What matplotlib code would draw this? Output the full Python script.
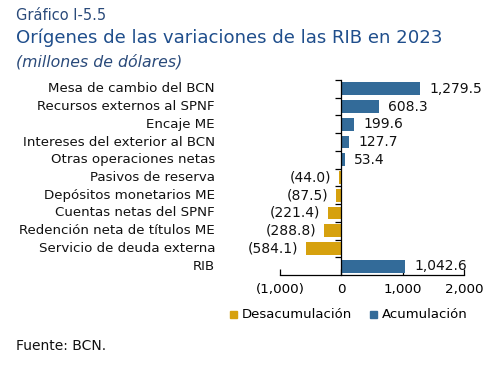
import numpy as np
import matplotlib.pyplot as plt
from matplotlib.patches import Rectangle
import matplotlib.transforms as mtransforms

categories = ["Mesa de cambio del BCN", "Recursos externos al SPNF", "Encaje ME",
              "Intereses del exterior al BCN", "Otras operaciones netas",
              "Pasivos de reserva", "Depósitos monetarios ME",
              "Cuentas netas del SPNF", "Redención neta de títulos ME",
              "Servicio de deuda externa", "RIB"]
values = [1279.5, 608.3, 199.6, 127.7, 53.4, -44.0, -87.5, -221.4, -288.8, -584.1, 1042.6]
xticks = [-1000, 0, 1000, 2000]
xticklabels = ["(1,000)", "0", "1,000", "2,000"]

blue = "#336b99"
gold = "#d6a10e"
navy = "#1f4e8c"

W, H = 498, 369
fig = plt.figure(figsize=(W / 100, H / 100), dpi=100)
ax = fig.add_axes([280 / W, 1 - 275 / H, 184 / W, 195 / H])

y = np.arange(len(categories))
colors = [blue if v >= 0 else gold for v in values]
ax.barh(y, values, height=0.72, color=colors, zorder=2)

ax.set_xlim(-1000, 2000)
ax.set_ylim(10.5, -0.5)

ax.spines["top"].set_visible(False)
ax.spines["right"].set_visible(False)
ax.spines["left"].set_position(("data", 0))
ax.spines["left"].set_linewidth(0.9)
ax.spines["bottom"].set_linewidth(0.9)

ax.set_yticks(np.arange(-0.5, 10.0, 1.0))
ax.set_yticklabels([])
ax.tick_params(axis="y", length=4, width=0.9, direction="out")
ax.set_xticks(xticks)
ax.set_xticklabels(xticklabels, fontsize=9.7, family="DejaVu Sans")
ax.tick_params(axis="x", length=4, width=0.9, direction="in", pad=6)

tr = mtransforms.blended_transform_factory(ax.transAxes, ax.transData)
for i, name in enumerate(categories):
    ax.text(-0.353, i, name, transform=tr, ha="right", va="center",
            fontsize=9.6, family="DejaVu Sans", color="#111111")

for i, v in enumerate(values):
    if v >= 0:
        s = f"{v:,.1f}"
        ax.text(v + 155, i, s, ha="left", va="center", fontsize=10, color="#111111")
    else:
        s = f"({abs(v):,.1f})"
        ax.text(v - 125, i, s, ha="right", va="center", fontsize=10, color="#111111")

# titles
fig.text(16 / W, 1 - 16 / H, "Gráfico I-5.5", fontsize=10.5, color="#2a4a7a",
         family="DejaVu Sans", va="center", ha="left")
fig.text(16 / W, 1 - 38 / H, "Orígenes de las variaciones de las RIB en 2023",
         fontsize=13.1, color=navy, family="DejaVu Sans", va="center", ha="left")
fig.text(16 / W, 1 - 62 / H, "(millones de dólares)", fontsize=11.3, color="#2a4a7a",
         family="DejaVu Sans", style="italic", va="center", ha="left")
fig.text(16 / W, 1 - 346 / H, "Fuente: BCN.", fontsize=10, color="#111111",
         family="DejaVu Sans", va="center", ha="left")

# legend
ly = 1 - 314 / H
fig.patches.append(Rectangle((230 / W, ly - 3.5 / H), 7 / W, 7 / H, color=gold,
                             transform=fig.transFigure, figure=fig))
fig.text(242 / W, ly, "Desacumulación", fontsize=9.5, va="center", ha="left")
fig.patches.append(Rectangle((370 / W, ly - 3.5 / H), 7 / W, 7 / H, color=blue,
                             transform=fig.transFigure, figure=fig))
fig.text(382 / W, ly, "Acumulación", fontsize=9.5, va="center", ha="left")

fig.savefig("out.png", dpi=100)
